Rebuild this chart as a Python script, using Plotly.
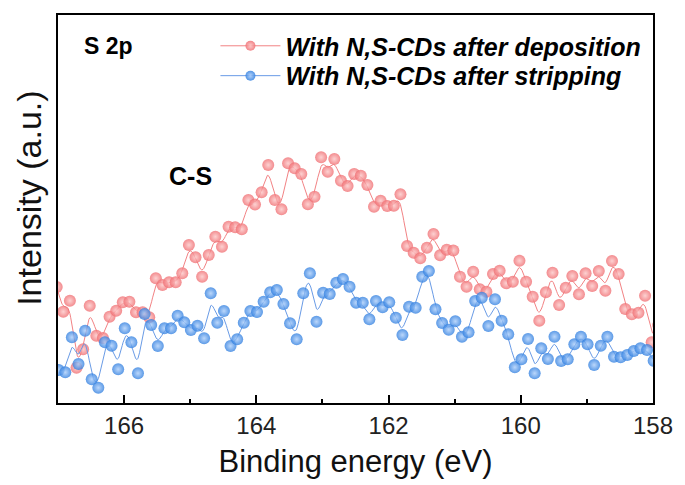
import plotly.graph_objects as go

# Binding energy (eV) grids
energy_dep = [
    167.02, 166.92, 166.82, 166.72, 166.62, 166.52, 166.42, 166.32, 166.22, 166.12,
    166.02, 165.92, 165.82, 165.72, 165.62, 165.52, 165.42, 165.32, 165.22, 165.12,
    165.02, 164.92, 164.82, 164.72, 164.62, 164.52, 164.42, 164.32, 164.22, 164.12,
    164.02, 163.92, 163.82, 163.72, 163.62, 163.52, 163.42, 163.32, 163.22, 163.12,
    163.02, 162.92, 162.82, 162.72, 162.62, 162.52, 162.42, 162.32, 162.22, 162.12,
    162.02, 161.92, 161.82, 161.72, 161.62, 161.52, 161.42, 161.32, 161.22, 161.12,
    161.02, 160.92, 160.82, 160.72, 160.62, 160.52, 160.42, 160.32, 160.22, 160.12,
    160.02, 159.92, 159.82, 159.72, 159.62, 159.52, 159.42, 159.32, 159.22, 159.12,
    159.02, 158.92, 158.82, 158.72, 158.62, 158.52, 158.42, 158.32, 158.22, 158.12,
    158.02, 157.92,
]
intensity_dep = [
    116.0, 91.3, 102.3, 35.3, 53.7, 97.3, 67.3, 65.0, 86.3, 92.3,
    100.7, 101.3, 90.7, 90.7, 85.7, 124.7, 118.0, 120.7, 120.7, 129.7,
    158.0, 145.7, 126.3, 148.0, 166.3, 156.3, 176.3, 175.7, 173.7, 203.0,
    198.5, 210.7, 238.0, 203.0, 193.7, 239.7, 234.7, 229.0, 198.7, 206.3,
    245.7, 231.3, 244.0, 222.3, 217.0, 229.0, 227.3, 218.0, 196.3, 202.3,
    197.0, 197.3, 208.7, 157.0, 150.3, 144.7, 155.3, 169.0, 147.7, 153.3,
    152.5, 126.3, 116.3, 131.3, 113.7, 111.3, 129.0, 132.3, 119.7, 121.3,
    142.3, 121.3, 106.3, 82.3, 110.7, 130.3, 98.0, 115.3, 127.0, 108.7,
    129.7, 117.0, 132.0, 112.3, 142.0, 129.0, 94.0, 88.7, 90.3, 107.3,
    60.7, 78.0,
]

energy_strip = [
    166.99, 166.89, 166.79, 166.69, 166.59, 166.49, 166.39, 166.29, 166.19, 166.09,
    165.99, 165.89, 165.79, 165.69, 165.59, 165.49, 165.39, 165.29, 165.19, 165.09,
    164.99, 164.89, 164.79, 164.69, 164.59, 164.49, 164.39, 164.29, 164.19, 164.09,
    163.99, 163.89, 163.79, 163.69, 163.59, 163.49, 163.39, 163.29, 163.19, 163.09,
    162.99, 162.89, 162.79, 162.69, 162.59, 162.49, 162.39, 162.29, 162.19, 162.09,
    161.99, 161.89, 161.79, 161.69, 161.59, 161.49, 161.39, 161.29, 161.19, 161.09,
    160.99, 160.89, 160.79, 160.69, 160.59, 160.49, 160.39, 160.29, 160.19, 160.09,
    159.99, 159.89, 159.79, 159.69, 159.59, 159.49, 159.39, 159.29, 159.19, 159.09,
    158.99, 158.89, 158.79, 158.69, 158.59, 158.49, 158.39, 158.29, 158.19, 158.09,
    157.99,
]
intensity_strip = [
    33.0, 30.7, 65.7, 39.0, 72.3, 23.7, 15.3, 60.7, 57.3, 33.7,
    74.7, 60.7, 29.7, 89.0, 78.0, 57.0, 74.7, 74.7, 87.3, 80.7,
    73.0, 77.3, 64.7, 109.7, 80.3, 92.0, 57.0, 63.8, 80.3, 92.0,
    91.0, 101.3, 110.7, 113.0, 99.0, 79.7, 63.7, 109.7, 129.7, 81.3,
    110.3, 109.0, 120.3, 124.0, 116.3, 100.3, 100.3, 83.7, 102.0, 95.7,
    100.7, 85.3, 68.0, 96.3, 95.3, 126.3, 132.0, 93.8, 80.0, 73.3,
    81.7, 66.3, 70.7, 102.0, 105.3, 77.0, 103.7, 82.3, 68.7, 35.7,
    43.7, 64.0, 29.7, 54.7, 44.0, 66.3, 42.0, 43.7, 58.7, 66.3,
    58.7, 38.0, 57.3, 66.3, 46.3, 45.7, 48.0, 52.0, 54.7, 53.0,
    42.3,
]

series_names = ["With N,S-CDs after deposition", "With N,S-CDs after stripping"]
x_ticks = [166, 164, 162, 160, 158]
x_minor = [165, 163, 161, 159]

RED = "rgb(240,110,114)"
RED_HI = "rgb(252,198,198)"
RED_LINE = "rgb(242,130,132)"
BLUE = "rgb(50,128,224)"
BLUE_HI = "rgb(170,205,250)"
BLUE_LINE = "rgb(105,155,230)"


def bspline(xs, ys, per=8):
    """Uniform cubic B-spline connection (control points = data), like Origin's B-Spline line."""
    n = len(xs)
    px = [xs[0]] + list(xs) + [xs[-1]]
    py = [ys[0]] + list(ys) + [ys[-1]]
    ox, oy = [], []
    for j in range(n - 1):
        for s in range(per):
            t = s / per
            b0 = (1 - t) ** 3 / 6
            b1 = (3 * t ** 3 - 6 * t ** 2 + 4) / 6
            b2 = (-3 * t ** 3 + 3 * t ** 2 + 3 * t + 1) / 6
            b3 = t ** 3 / 6
            ox.append(b0 * px[j] + b1 * px[j + 1] + b2 * px[j + 2] + b3 * px[j + 3])
            oy.append(b0 * py[j] + b1 * py[j + 1] + b2 * py[j + 2] + b3 * py[j + 3])
    ox.append(xs[-1])
    oy.append((py[-3] + 4 * py[-2] + py[-1]) / 6)
    return ox, oy


fig = go.Figure()

for xs, ys, col, hi, lcol, name, lg in [
    (energy_dep, intensity_dep, RED, RED_HI, RED_LINE, series_names[0], "legend"),
    (energy_strip, intensity_strip, BLUE, BLUE_HI, BLUE_LINE, series_names[1], "legend2"),
]:
    lx, ly = bspline(xs, ys)
    fig.add_trace(go.Scatter(x=lx, y=ly, mode="lines", line=dict(color=lcol, width=1),
                             showlegend=False, hoverinfo="skip"))
    fig.add_trace(go.Scatter(x=xs, y=ys, mode="markers", showlegend=False, name=name,
                             marker=dict(size=12, color=col, opacity=0.8,
                                         gradient=dict(type="radial", color=hi),
                                         line=dict(width=0))))
    fig.add_trace(go.Scatter(x=[None], y=[None], mode="lines+markers", name=name, legend=lg,
                             line=dict(color=lcol, width=1),
                             marker=dict(size=10, color=col, opacity=0.85,
                                         gradient=dict(type="radial", color=hi),
                                         line=dict(width=0))))

FONT = "Liberation Sans, Arial, sans-serif"
LEG_FONT = dict(family=FONT, size=25, color="black", style="italic", weight="bold")

fig.update_layout(
    width=685, height=485,
    margin=dict(l=58, r=26, t=15, b=82),
    plot_bgcolor="white", paper_bgcolor="white",
    font=dict(family=FONT, color="black"),
    xaxis=dict(
        range=[167.0, 158.0],
        tickmode="array", tickvals=x_ticks,
        ticks="inside", ticklen=8, tickwidth=1.5, tickcolor="black",
        minor=dict(tickmode="array", tickvals=x_minor, ticks="inside", ticklen=4,
                   tickwidth=1.5, tickcolor="black", showgrid=False),
        showline=True, linecolor="black", linewidth=2, mirror=True,
        showgrid=False, zeroline=False,
        tickfont=dict(family=FONT, size=24, color="#222"),
        title=dict(text="Binding energy (eV)", font=dict(family=FONT, size=31, color="#111"),
                   standoff=13),
    ),
    yaxis=dict(
        range=[0, 388],
        showticklabels=False, ticks="",
        showline=True, linecolor="black", linewidth=2, mirror=True,
        showgrid=False, zeroline=False,
    ),
    legend=dict(
        x=0.2646, y=0.920, xanchor="left", yanchor="middle", itemwidth=60,
        bgcolor="rgba(0,0,0,0)", borderwidth=0, font=LEG_FONT,
    ),
    legend2=dict(
        x=0.2646, y=0.843, xanchor="left", yanchor="middle", itemwidth=60,
        bgcolor="rgba(0,0,0,0)", borderwidth=0, font=LEG_FONT,
    ),
    annotations=[
        dict(text="Intensity (a.u.)", xref="paper", yref="paper", x=-0.0499, y=0.527,
             xanchor="center", yanchor="middle", textangle=-90, showarrow=False,
             font=dict(family=FONT, size=34, color="#111")),
        dict(text="S 2p", xref="paper", yref="paper", x=0.04, y=0.92,
             xanchor="left", yanchor="middle", showarrow=False,
             font=dict(family=FONT, size=23, color="black", weight="bold")),
        dict(text="C-S", xref="paper", yref="paper", x=0.183, y=0.585,
             xanchor="left", yanchor="middle", showarrow=False,
             font=dict(family=FONT, size=25, color="black", weight="bold")),
    ],
)

fig.write_html("out.html")
